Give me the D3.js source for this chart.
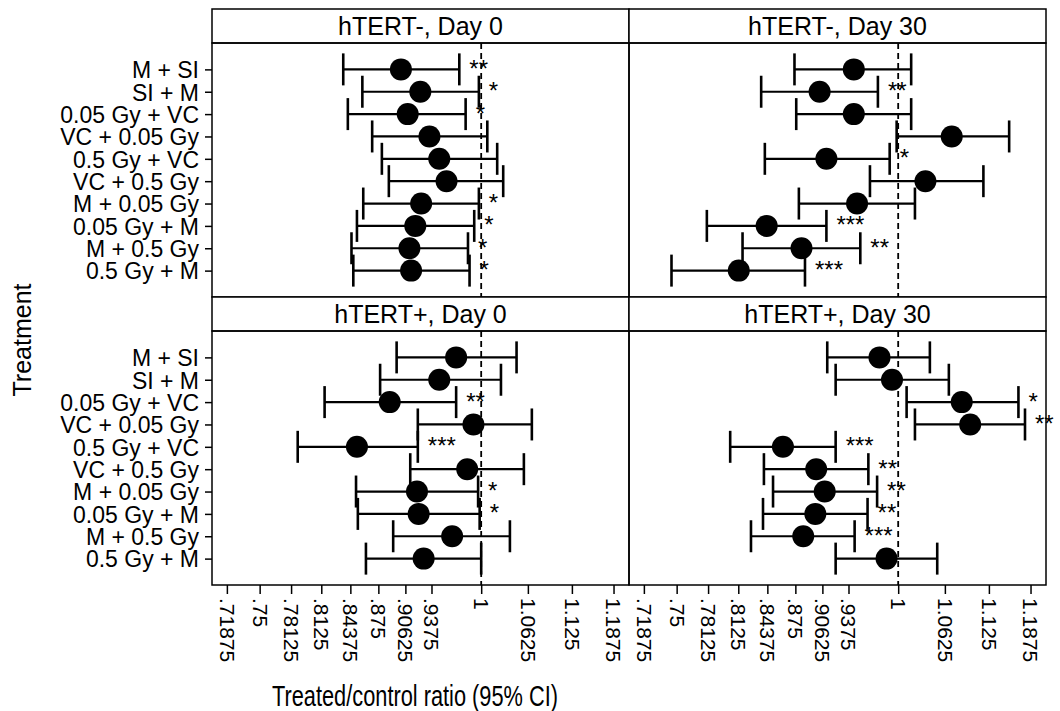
<!DOCTYPE html>
<html>
<head>
<meta charset="utf-8">
<script src="https://cdn.jsdelivr.net/npm/d3@7"></script>
<style>
  html, body { margin: 0; padding: 0; background: #fff; }
  svg { display: block; }
  text { font-family: "Liberation Sans", Arial, Helvetica, sans-serif; fill: #000; }
</style>
</head>
<body>
<svg id="chart" width="1060" height="711"></svg>
<script>
// Treatments, top to bottom in every panel
const treatments = ["M + SI", "SI + M", "0.05 Gy + VC", "VC + 0.05 Gy", "0.5 Gy + VC",
                    "VC + 0.5 Gy", "M + 0.05 Gy", "0.05 Gy + M", "M + 0.5 Gy", "0.5 Gy + M"];

const panelTitles = ["hTERT-, Day 0", "hTERT-, Day 30", "hTERT+, Day 0", "hTERT+, Day 30"];

const xTickValues = [0.71875, 0.75, 0.78125, 0.8125, 0.84375, 0.875, 0.90625, 0.9375, 1, 1.0625, 1.125, 1.1875];
const xTickLabels = [".71875", ".75", ".78125", ".8125", ".84375", ".875", ".90625", ".9375", "1", "1.0625", "1.125", "1.1875"];

// hTERT-, Day 0
const negDay0Ratio = [0.901, 0.924, 0.909, 0.935, 0.947, 0.956, 0.925, 0.918, 0.911, 0.913];
const negDay0Lower = [0.836, 0.857, 0.841, 0.868, 0.879, 0.887, 0.858, 0.851, 0.845, 0.847];
const negDay0Upper = [0.972, 0.997, 0.980, 1.008, 1.021, 1.029, 0.997, 0.991, 0.983, 0.985];
const negDay0Stars = ["**", "*", "*", "", "", "", "*", "*", "*", "*"];

// hTERT-, Day 30
const negDay30Ratio = [0.944, 0.903, 0.944, 1.072, 0.911, 1.036, 0.948, 0.843, 0.882, 0.813];
const negDay30Lower = [0.874, 0.837, 0.876, 0.998, 0.841, 0.964, 0.879, 0.780, 0.817, 0.745];
const negDay30Upper = [1.017, 0.974, 1.017, 1.155, 0.989, 1.117, 1.022, 0.911, 0.952, 0.886];
const negDay30Stars = ["", "**", "", "", "*", "", "", "***", "**", "***"];

// hTERT+, Day 0
const posDay0Ratio = [0.968, 0.947, 0.888, 0.990, 0.851, 0.982, 0.920, 0.922, 0.963, 0.928];
const posDay0Lower = [0.896, 0.877, 0.816, 0.921, 0.788, 0.912, 0.850, 0.852, 0.892, 0.861];
const posDay0Upper = [1.047, 1.026, 0.968, 1.068, 0.921, 1.057, 0.996, 0.998, 1.038, 1.000];
const posDay0Stars = ["", "", "**", "", "***", "", "*", "*", "", ""];

// hTERT+, Day 30
const posDay30Ratio = [0.976, 0.992, 1.086, 1.098, 0.861, 0.899, 0.909, 0.898, 0.884, 0.985];
const posDay30Lower = [0.912, 0.922, 1.011, 1.022, 0.804, 0.840, 0.850, 0.839, 0.826, 0.922];
const posDay30Upper = [1.042, 1.068, 1.169, 1.179, 0.922, 0.962, 0.973, 0.961, 0.945, 1.052];
const posDay30Stars = ["", "", "*", "**", "***", "**", "**", "**", "***", ""];

const panelData = [
  { title: panelTitles[0], ratio: negDay0Ratio,  lower: negDay0Lower,  upper: negDay0Upper,  stars: negDay0Stars },
  { title: panelTitles[1], ratio: negDay30Ratio, lower: negDay30Lower, upper: negDay30Upper, stars: negDay30Stars },
  { title: panelTitles[2], ratio: posDay0Ratio,  lower: posDay0Lower,  upper: posDay0Upper,  stars: posDay0Stars },
  { title: panelTitles[3], ratio: posDay30Ratio, lower: posDay30Lower, upper: posDay30Upper, stars: posDay30Stars }
];

// Layout of the 2 x 2 trellis
const left0 = 212, top0 = 9;
const colW = 417, stripH = 34, panelH = 254;
const dotR = 11, capH = 32;

const svg = d3.select("#chart");

const x = d3.scaleLog().domain([0.705, 1.2116]).range([0, colW]);
const y = d3.scalePoint().domain(treatments).range([0, panelH]).padding(1.18);

panelData.forEach((p, i) => {
  const row = Math.floor(i / 2), col = i % 2;
  const px = left0 + col * colW;
  const sy = top0 + row * (stripH + panelH);
  const py = sy + stripH;

  // strip with title
  const strip = svg.append("g").attr("transform", `translate(${px},${sy})`);
  strip.append("rect").attr("width", colW).attr("height", stripH)
    .attr("fill", "#fff").attr("stroke", "#000").attr("stroke-width", 1.5);
  strip.append("text").attr("x", colW / 2).attr("y", stripH / 2).attr("dy", "0.36em")
    .attr("text-anchor", "middle").attr("font-size", 25).text(p.title);

  const g = svg.append("g").attr("transform", `translate(${px},${py})`);
  g.append("rect").attr("width", colW).attr("height", panelH)
    .attr("fill", "none").attr("stroke", "#000").attr("stroke-width", 1.5);

  // reference line at ratio 1
  g.append("line").attr("x1", x(1)).attr("x2", x(1)).attr("y1", 0).attr("y2", panelH)
    .attr("stroke", "#000").attr("stroke-width", 1.8).attr("stroke-dasharray", "6,4");

  const rows = treatments.map((t, k) => ({ t, r: p.ratio[k], lo: p.lower[k], hi: p.upper[k], s: p.stars[k] }));

  const bars = g.append("g").selectAll("g").data(rows).join("g")
    .attr("transform", d => `translate(0,${y(d.t)})`);
  bars.append("line").attr("x1", d => x(d.lo)).attr("x2", d => x(d.hi))
    .attr("stroke", "#000").attr("stroke-width", 2.2);
  bars.append("line").attr("x1", d => x(d.lo)).attr("x2", d => x(d.lo))
    .attr("y1", -capH / 2).attr("y2", capH / 2).attr("stroke", "#000").attr("stroke-width", 2.6);
  bars.append("line").attr("x1", d => x(d.hi)).attr("x2", d => x(d.hi))
    .attr("y1", -capH / 2).attr("y2", capH / 2).attr("stroke", "#000").attr("stroke-width", 2.6);
  bars.append("circle").attr("cx", d => x(d.r)).attr("r", dotR).attr("fill", "#000");
  bars.filter(d => d.s).append("text")
    .attr("x", d => x(d.hi) + 10).attr("y", 7.5)
    .attr("font-size", 24).text(d => d.s);

  // y axis on the left column
  if (col === 0) {
    const ya = g.append("g").call(d3.axisLeft(y).tickSize(7).tickPadding(6));
    ya.select(".domain").remove();
    ya.selectAll(".tick line").attr("stroke", "#000").attr("stroke-width", 1.5);
    ya.selectAll(".tick text").attr("font-size", 23).attr("fill", "#000")
      .attr("font-family", "'Liberation Sans', Arial, sans-serif").attr("dy", "0.36em");
  }

  // x axis under the bottom row
  if (row === 1) {
    const xa = g.append("g").attr("transform", `translate(0,${panelH})`)
      .call(d3.axisBottom(x).tickValues(xTickValues)
        .tickFormat((d, k) => xTickLabels[k]).tickSize(9).tickPadding(0));
    xa.select(".domain").remove();
    xa.selectAll(".tick line").attr("stroke", "#000").attr("stroke-width", 1.5);
    xa.selectAll(".tick text")
      .attr("font-size", 21).attr("fill", "#000")
      .attr("font-family", "'Liberation Sans', Arial, sans-serif")
      .attr("text-anchor", "start")
      .attr("transform", "rotate(90)")
      .attr("x", 13).attr("y", 0).attr("dy", "0.36em");
  }
});

// axis titles
svg.append("text").attr("transform", "translate(22,340) rotate(-90)")
  .attr("text-anchor", "middle").attr("dy", "0.36em").attr("font-size", 25).text("Treatment");

svg.append("text").attr("x", 415).attr("y", 706)
  .attr("text-anchor", "middle").attr("font-size", 30)
  .attr("textLength", 286).attr("lengthAdjust", "spacingAndGlyphs")
  .text("Treated/control ratio (95% CI)");
</script>
</body>
</html>
